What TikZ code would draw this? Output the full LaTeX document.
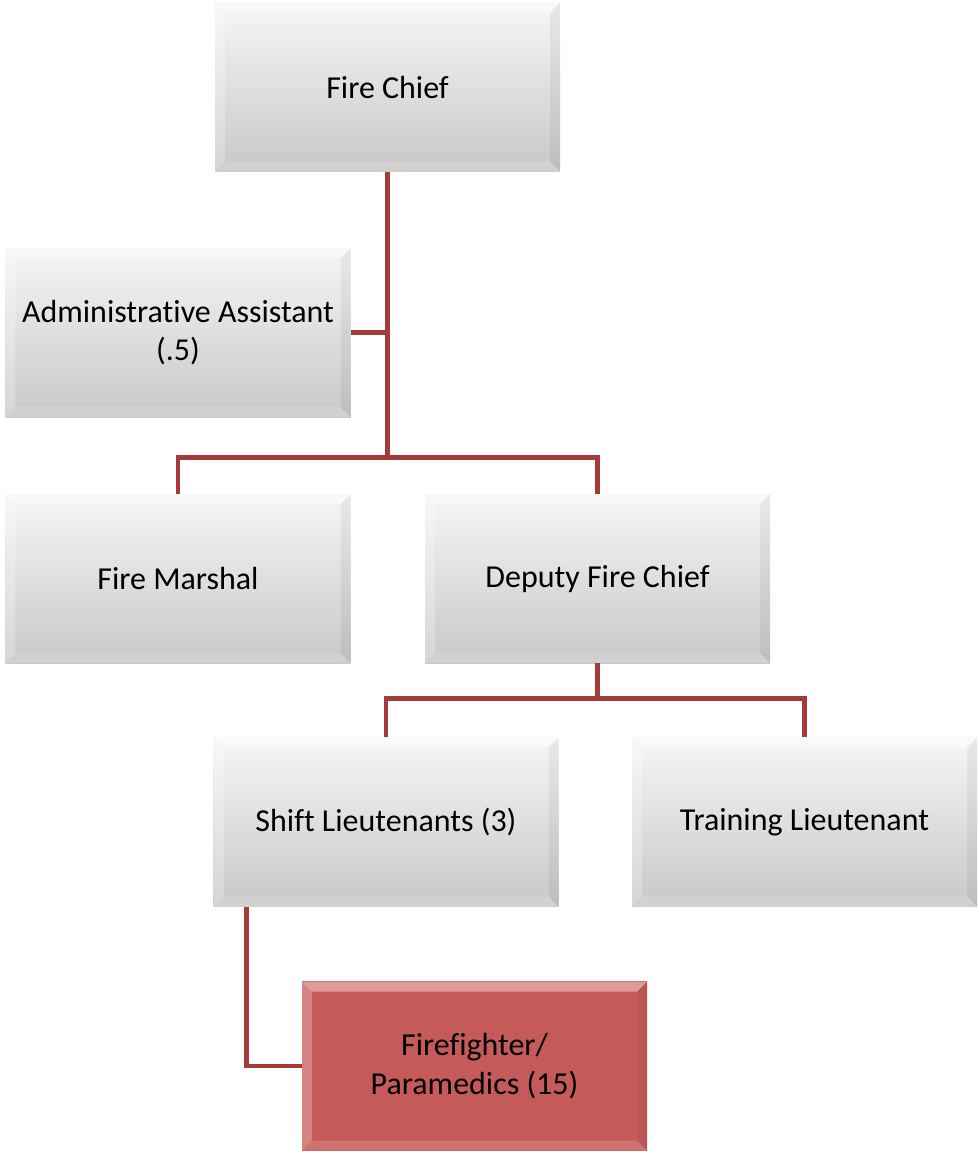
\documentclass[tikz,border=0pt]{standalone}
\usepackage{fontspec}
\setmainfont{Carlito}[Ligatures=CommonOff]
\usetikzlibrary{positioning}

\definecolor{linkred}{RGB}{163,59,59}
\definecolor{ffred}{RGB}{197,91,88}
\definecolor{boxtop}{RGB}{246,246,246}
\definecolor{boxbot}{RGB}{200,200,200}

\tikzset{
	bevel/.style={path picture={
		\fill[white, opacity=0.4] (path picture bounding box.north west) -- (path picture bounding box.north east)
			-- ([shift={(-0.2,-0.2)}]path picture bounding box.north east) -- ([shift={(0.2,-0.2)}]path picture bounding box.north west) -- cycle;
		\fill[white, opacity=0.25] (path picture bounding box.north west) -- ([shift={(0.2,-0.2)}]path picture bounding box.north west)
			-- ([shift={(0.2,0.2)}]path picture bounding box.south west) -- (path picture bounding box.south west) -- cycle;
		\fill[black, opacity=0.05] (path picture bounding box.north east) -- ([shift={(-0.2,-0.2)}]path picture bounding box.north east)
			-- ([shift={(-0.2,0.2)}]path picture bounding box.south east) -- (path picture bounding box.south east) -- cycle;
		\fill[white, opacity=0.15] (path picture bounding box.south west) -- ([shift={(0.2,0.2)}]path picture bounding box.south west)
			-- ([shift={(-0.2,0.2)}]path picture bounding box.south east) -- (path picture bounding box.south east) -- cycle;
	}},
	post/.style={rectangle, minimum width=6.9cm, minimum height=3.38cm, inner sep=0pt, align=center,
		top color=boxtop, bottom color=boxbot, font=\fontsize{18.2}{22}\selectfont, bevel},
	postred/.style={post, top color=ffred, bottom color=ffred},
	link/.style={draw=linkred, line width=2.8pt},
}

\begin{document}
\begin{tikzpicture}
	\useasboundingbox (0,0) rectangle (19.56,-23.08);
	% boxes
	\node[post] (chief) at (7.75,-1.74) {Fire Chief};
	\node[post] (admin) at (3.56,-6.65) {Administrative Assistant\\(.5)};
	\node[post] (marshal) at (3.56,-11.57) {Fire Marshal};
	\node[post] (deputy) at (11.95,-11.57) {Deputy Fire Chief};
	\node[post] (shift) at (7.72,-16.44) {Shift Lieutenants (3)};
	\node[post] (training) at (16.09,-16.44) {Training Lieutenant};
	\node[postred] (ff) at (9.49,-21.32) {Firefighter/\\Paramedics (15)};
	% bus points
	\coordinate (chiefbus) at ([yshift=-9.1cm]chief.north);
	\coordinate (deputybus) at ([yshift=-0.7cm]deputy.south);
	\coordinate (shiftdrop) at ([xshift=0.66cm]shift.south west);
	% connectors
	\draw[link] (chief.south) -- (chiefbus);
	\draw[link] (admin.east) -- (admin.east -| chief.south);
	\draw[link] (chiefbus) -| (marshal.north);
	\draw[link] (chiefbus) -| (deputy.north);
	\draw[link] (deputy.south) -- (deputybus);
	\draw[link] (deputybus) -| (shift.north);
	\draw[link] (deputybus) -| (training.north);
	\draw[link] (shiftdrop) |- (ff.west);
\end{tikzpicture}
\end{document}
